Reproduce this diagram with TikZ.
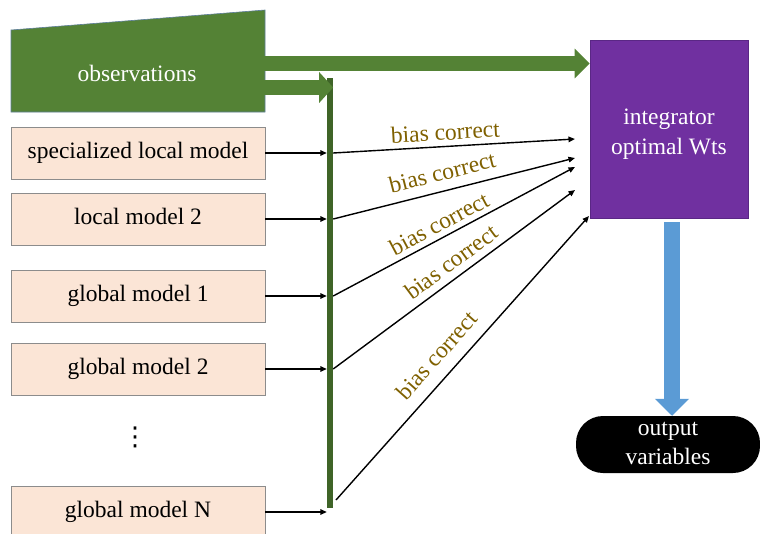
\documentclass[tikz,border=0pt]{standalone}
\usepackage{fontspec}
\setmainfont{Liberation Serif}
\newfontfamily\dejavu{DejaVu Sans}
\usetikzlibrary{arrows.meta}
\definecolor{obsgreen}{HTML}{548235}
\definecolor{obsedge}{HTML}{5E7E9A}
\definecolor{bargreen}{HTML}{3F6428}
\definecolor{peach}{HTML}{FBE5D6}
\definecolor{peachedge}{HTML}{8C8C8C}
\definecolor{intpurple}{HTML}{7030A0}
\definecolor{intedge}{HTML}{5A2785}
\definecolor{outblue}{HTML}{5B9BD5}
\definecolor{biascol}{HTML}{7F6000}
\begin{document}
\begin{tikzpicture}[x=1pt,y=-1pt,
  font=\fontsize{23.5}{28.5}\selectfont,
  modelbox/.style={draw=peachedge, fill=peach, line width=0.7pt,
    minimum width=254pt, minimum height=52pt, inner sep=0pt,
    text height=16pt, text depth=5pt},
  thinarrow/.style={line width=1.4pt, -{Triangle[length=6.5pt,width=5.5pt]}},
  biaslabel/.style={text=biascol, sloped, anchor=south, text depth=0pt, inner sep=0pt}
]
\useasboundingbox (0,0) rectangle (760,533);

% observations
\fill[obsgreen, draw=obsedge, line width=0.6pt] (11,30) -- (265,10) -- (265,112) -- (11,112) -- cycle;
\node[text=white] (obs) at (137,73) {observations};
\coordinate (obsE1) at (263,63.5);
\coordinate (obsE2) at (263,87.5);

% model boxes
\node[modelbox] (m1) at (138,153) {specialized local model};
\node[modelbox] (m2) at (138,219) {local model 2};
\node[modelbox] (m3) at (138,296) {global model 1};
\node[modelbox] (m4) at (138,369) {global model 2};
\node[inner sep=0pt, font=\dejavu\fontsize{26}{28}\selectfont] (dots) at (135,437) {⋮};
\node[modelbox] (m5) at (138,512) {global model N};

% vertical bar
\node[fill=bargreen, minimum width=6pt, minimum height=430pt, inner sep=0pt] (bar) at (330,293) {};

% integrator
\node[fill=intpurple, draw=intedge, line width=0.7pt, minimum width=158pt, minimum height=178pt,
  text=white, inner sep=0pt] (integ) at (669,129) {};
\node[text=white, align=center, font=\fontsize{23.5}{30}\selectfont, inner sep=0pt] (integtxt) at (669,134) {integrator\\optimal Wts};

% output
\node[fill=black, rounded corners=27pt, minimum width=184pt, minimum height=55pt,
  text=white, inner sep=0pt] (out) at (668,444.5)
  {\begin{tabular}{@{}c@{}}output\\[0pt]variables\end{tabular}};

% thick green arrows
\draw[obsgreen, line width=15pt, -{Triangle[length=15pt,width=29pt]}] (obsE1) -- (integ.west |- obsE1);
\draw[obsgreen, line width=15pt, -{Triangle[length=14pt,width=30pt]}] (obsE2) -- (bar.east |- obsE2);

% blue arrow
\coordinate (blueS) at (672,222);
\draw[outblue, line width=16pt, -{Triangle[length=17pt,width=33pt]}] (blueS) -- (blueS |- out.north);

% left arrows
\foreach \m in {m1,m2,m3,m4,m5}
  \draw[thinarrow] (\m.east) -- (\m.east -| bar.west);

% bias arrows
\coordinate (t1) at (575,139);
\coordinate (t2) at (575,158);
\coordinate (t3) at (575,167);
\coordinate (t4) at (575,190);
\coordinate (t5) at (589,216);
\coordinate (s5) at (336,500);
\draw[thinarrow] (bar.east |- m1) -- node[biaslabel, pos=0.467, above=5.7pt] {bias correct} (t1);
\draw[thinarrow] (bar.east |- m2) -- node[biaslabel, pos=0.47, above=10pt] {bias correct} (t2);
\draw[thinarrow] (bar.east |- m3) -- node[biaslabel, pos=0.465, above=5.3pt] {bias correct} (t3);
\draw[thinarrow] (bar.east |- m4) -- node[biaslabel, pos=0.527, above=7pt] {bias correct} (t4);
\draw[thinarrow] (s5) -- node[biaslabel, pos=0.46, above=12.5pt] {bias correct} (t5);
\end{tikzpicture}
\end{document}
